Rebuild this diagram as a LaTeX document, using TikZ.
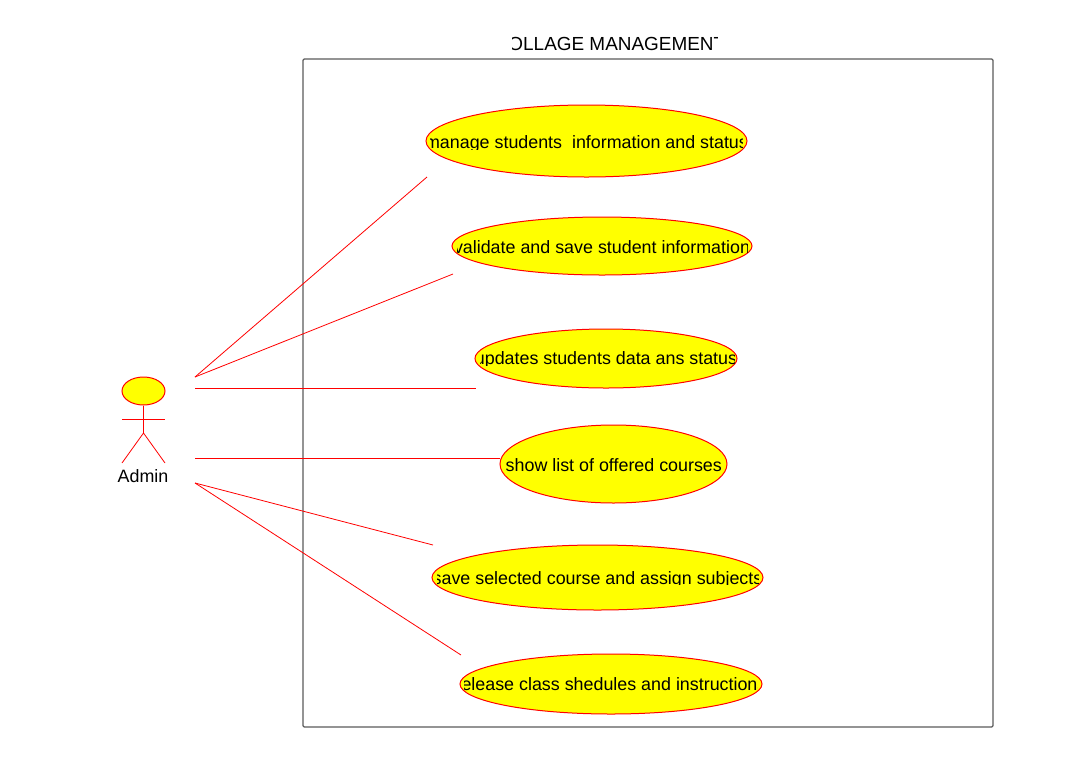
\documentclass[tikz,border=0pt]{standalone}
\usepackage{fontspec}
\setmainfont{Liberation Sans}
\usetikzlibrary{shapes.geometric}
\definecolor{boxgray}{RGB}{90,90,90}
\definecolor{ucred}{RGB}{255,0,0}
\definecolor{ucyellow}{RGB}{255,255,0}
\tikzset{
  usecase/.style={draw=ucred,fill=ucyellow,ellipse,inner sep=0pt,line width=0.75pt},
  usetext/.style={anchor=base,inner sep=0.75pt,font=\fontsize{13.4}{15}\selectfont,text=black},
  assoc/.style={draw=ucred,line width=0.6pt}
}
\begin{document}
\begin{tikzpicture}[x=0.75pt,y=0.75pt,yscale=-1,xscale=1]
\useasboundingbox (0,0) rectangle (1083,776);

%Shape: Rectangle
\draw [boxgray,line width=0.9pt,rounded corners=1pt] (303,59) rectangle (993,727);

%Title
\begin{scope}
\clip (512,30) rectangle (717,56);
\node [usetext,font=\fontsize{14.2}{16}\selectfont] (title) at (610,50) {COLLAGE MANAGEMENT};
\end{scope}

%Use cases
\node [usecase,minimum width=240.75pt,minimum height=54pt] (uc1) at (586.5,141) {};
\node [usecase,minimum width=225pt,minimum height=43.5pt] (uc2) at (602,246) {};
\node [usecase,minimum width=196.5pt,minimum height=44.25pt] (uc3) at (606,358.5) {};
\node [usecase,minimum width=170.25pt,minimum height=58.5pt] (uc4) at (613.5,464) {};
\node [usecase,minimum width=248.25pt,minimum height=48.75pt] (uc5) at (597.5,577.5) {};
\node [usecase,minimum width=226.5pt,minimum height=45pt] (uc6) at (611,684) {};

% Text Node
\begin{scope}
\clip (430,130) rectangle (742,149);
\node [usetext] (t1) at (586.5,148.2) {manage students\ \ information and status};
\end{scope}
% Text Node
\begin{scope}
\clip (457,235) rectangle (747.5,256);
\node [usetext] (t2) at (602,253.2) {validate and save student information};
\end{scope}
% Text Node
\begin{scope}
\clip (480,347) rectangle (734,365.5);
\node [usetext] (t3) at (606,364.8) {updates students data ans status};
\end{scope}
% Text Node
\node [usetext] (t4) at (613.8,471.2) {show list of offered courses};
% Text Node
\begin{scope}
\clip (437,566) rectangle (758,584.5);
\node [usetext] (t5) at (597.5,584) {save selected course and assign subjects};
\end{scope}
% Text Node
\begin{scope}
\clip (464.5,672) rectangle (757.5,693);
\node [usetext] (t6) at (611,690.3) {release class shedules and instructions};
\end{scope}

%Actor
\node [usecase,minimum width=32.25pt,minimum height=21pt] (head) at (143.5,391) {};
\coordinate (hip) at (143.5,433);
\coordinate (armL) at (122,419);
\coordinate (armR) at (165,419);
\coordinate (legL) at (122,463);
\coordinate (legR) at (165,463);
\draw [assoc] (head) -- (hip);
\draw [assoc] (armL) -- (armR);
\draw [assoc] (legL) -- (hip) -- (legR);
\node [usetext] (admin) at (143,482.2) {Admin};

%Straight Lines
\coordinate (a1) at (195,377);
\coordinate (a2) at (195,388);
\coordinate (a3) at (195,458);
\coordinate (a4) at (195,483);
\coordinate (e1) at (427,177);
\coordinate (e2) at (453,274);
\coordinate (e3) at (476,388);
\coordinate (e4) at (500,458);
\coordinate (e5) at (433,545);
\coordinate (e6) at (461,655);
\draw [assoc] (a1) -- (e1);
\draw [assoc] (a1) -- (e2);
\draw [assoc] (a2) -- (e3);
\draw [assoc] (a3) -- (e4);
\draw [assoc] (a4) -- (e5);
\draw [assoc] (a4) -- (e6);

\end{tikzpicture}
\end{document}
